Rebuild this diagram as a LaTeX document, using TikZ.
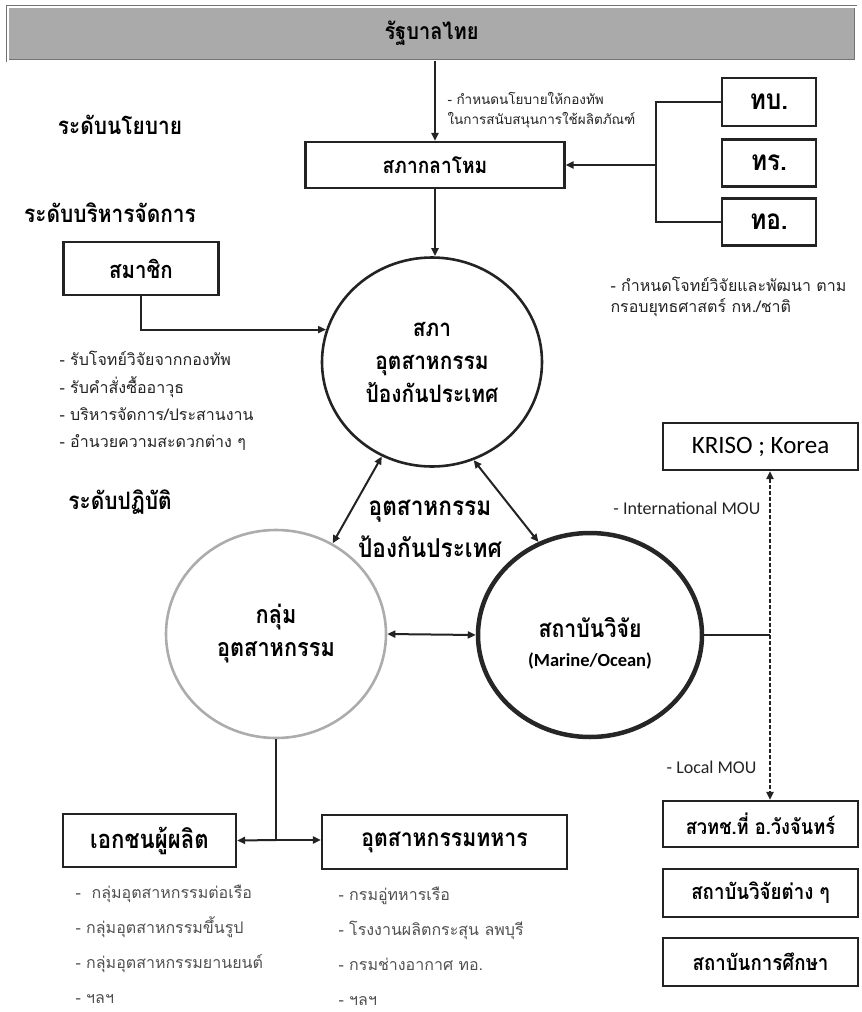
\documentclass[tikz,border=0pt]{standalone}
\usepackage{fontspec}
\usetikzlibrary{arrows.meta,shapes.geometric,calc}
\newfontfamily\thai[Script=Thai]{Loma}
\newfontfamily\thaic[Script=Thai,FakeStretch=0.87]{Loma}
\newfontfamily\latf{Carlito}
\definecolor{bannergray}{RGB}{170,170,170}
\definecolor{ink}{RGB}{35,35,35}
\definecolor{soft}{RGB}{80,80,80}
\begin{document}
\begin{tikzpicture}[x=1pt,y=-1pt,
  box/.style={draw=ink,line width=2.2pt,rectangle,inner sep=0pt,fill=white},
  conn/.style={draw=ink,line width=2pt},
  arr/.style={conn,-{Triangle[length=8pt,width=7pt]}},
  darr/.style={conn,{Triangle[length=8pt,width=7pt]}-{Triangle[length=8pt,width=7pt]}},
  circ/.style={ellipse,draw=ink,inner sep=0pt,align=center},
  tb/.style={font=\thaic\bfseries\fontsize{#1}{#1}\selectfont},
  lvl/.style={font=\thaic\bfseries\fontsize{24}{26}\selectfont},
  note/.style={align=left,text=ink}
]
\useasboundingbox (0,0) rectangle (862,1012);

% banner
\node[rectangle,minimum width=848,minimum height=54,fill=bannergray,
  draw=black!55,double=white,double distance=2pt,line width=0.8pt,
  tb=23] (gov) at (431.5,33.5) {รัฐบาลไทย};

% level labels
\node[lvl] (l1) at (120,125) {ระดับนโยบาย};
\node[lvl] (l2) at (110,213) {ระดับบริหารจัดการ};
\node[lvl] (l3) at (120,502) {ระดับปฏิบัติ};

% defence council
\node[box,minimum width=259,minimum height=46,tb=22] (kh) at (435,165) {สภากลาโหม};
\draw[arr] (kh.north |- gov.south) -- (kh.north);
\node[note,anchor=west,font=\thai\fontsize{13.5}{20}\selectfont] (lbl1) at (444,110)
  {- กำหนดนโยบายให้กองทัพ\\ในการสนับสนุนการใช้ผลิตภัณฑ์};

% armed forces
\node[box,minimum width=94,minimum height=48,tb=28] (tbb) at (769,102) {ทบ.};
\node[box,minimum width=94,minimum height=47,tb=28] (trr) at (769,163) {ทร.};
\node[box,minimum width=94,minimum height=47,tb=28] (too) at (769,222) {ทอ.};
\coordinate (bm) at (656,165);
\draw[conn] (tbb.west) -| (bm) |- (too.west);
\draw[arr] (bm) -- (kh.east);
\node[note,anchor=west,font=\thai\fontsize{16}{21}\selectfont] (lbl2) at (607,296.5)
  {- กำหนดโจทย์วิจัยและพัฒนา ตาม\\กรอบยุทธศาสตร์ กห./ชาติ};

% council circle
\node[circ,minimum width=220,minimum height=209,line width=2.6pt,
  font=\thaic\bfseries\fontsize{24}{33}\selectfont] (top) at (432,362)
  {สภา\\อุตสาหกรรม\\ป้องกันประเทศ};
\draw[arr] (kh.south) -- (kh.south |- top.north);

% members
\node[box,minimum width=155,minimum height=53,tb=23.5] (sm) at (141,268.5) {สมาชิก};
\draw[arr] (sm.south) |- (top.163);
\node[note,anchor=west,font=\thai\fontsize{16}{27.3}\selectfont] (lbl3) at (56,401)
  {- รับโจทย์วิจัยจากกองทัพ\\- รับคำสั่งซื้ออาวุธ\\- บริหารจัดการ/ประสานงาน\\- อำนวยความสะดวกต่าง ๆ};

% middle text
\node[align=center,font=\thaic\bfseries\fontsize{26}{42}\selectfont] (mid) at (430,529)
  {อุตสาหกรรม\\ป้องกันประเทศ};

% lower circles
\node[circ,draw=gray!65,minimum width=220,minimum height=208,line width=2.6pt,
  font=\thaic\bfseries\fontsize{25}{33}\selectfont] (lc) at (276,634)
  {กลุ่ม\\อุตสาหกรรม};
\node[circ,draw=black!85,minimum width=224,minimum height=204,line width=4.5pt] (rc) at (590,635) {};
\node[tb=24.5] (rct1) at (590,628) {สถาบันวิจัย};
\node[font=\latf\bfseries\fontsize{18.5}{20}\selectfont] (rct2) at (590,661) {(Marine/Ocean)};

\draw[darr] (top.242) -- (lc.58);
\draw[darr] (top.293) -- (rc.119);
\draw[darr] (lc.east) -- (rc.west);

% right column
\node[box,minimum width=195,minimum height=47,font=\latf\fontsize{25}{27}\selectfont] (kr) at (760.5,446.5) {KRISO ; Korea};
\node[box,minimum width=195,minimum height=46,tb=21] (ns) at (760.5,824) {สวทช.ที่ อ.วังจันทร์};
\node[box,minimum width=195,minimum height=48,tb=21.5] (ri) at (760.5,893) {สถาบันวิจัยต่าง ๆ};
\node[box,minimum width=195,minimum height=48,tb=21.5] (ed) at (760.5,962) {สถาบันการศึกษา};
\coordinate (dj) at (770,635);
\draw[conn] (rc.east) -- (dj);
\draw[line width=2.6pt,draw=ink,dash pattern=on 4pt off 2pt,{Triangle[length=8pt,width=7pt]}-{Triangle[length=8pt,width=7pt]}]
  (dj |- kr.south) -- (dj |- ns.north);
\node[anchor=east,text=ink,font=\latf\fontsize{18}{20}\selectfont] (mou1) at (764,508) {- International MOU};
\node[anchor=east,text=ink,font=\latf\fontsize{18}{20}\selectfont] (mou2) at (760,767) {- Local MOU};

% bottom
\node[box,minimum width=173,minimum height=53,tb=25.5] (ek) at (149.5,840.5) {เอกชนผู้ผลิต};
\node[box,minimum width=245,minimum height=54,tb=24.4] (im) at (444.5,842) {อุตสาหกรรมทหาร};
\coordinate (tj) at (276,840);
\draw[conn] (lc.south) -- (tj);
\draw[arr] (tj) -- (ek.east);
\draw[arr] (tj) -- (tj -| im.west);
\node[note,anchor=west,text=soft,font=\thai\fontsize{16}{35}\selectfont] (lbl4) at (72,944)
  {-~ กลุ่มอุตสาหกรรมต่อเรือ\\- กลุ่มอุตสาหกรรมขึ้นรูป\\- กลุ่มอุตสาหกรรมยานยนต์\\- ฯลฯ};
\node[note,anchor=west,text=soft,font=\thai\fontsize{16}{35}\selectfont] (lbl5) at (335,946)
  {- กรมอู่ทหารเรือ\\- โรงงานผลิตกระสุน ลพบุรี\\- กรมช่างอากาศ ทอ.\\- ฯลฯ};
\end{tikzpicture}
\end{document}
